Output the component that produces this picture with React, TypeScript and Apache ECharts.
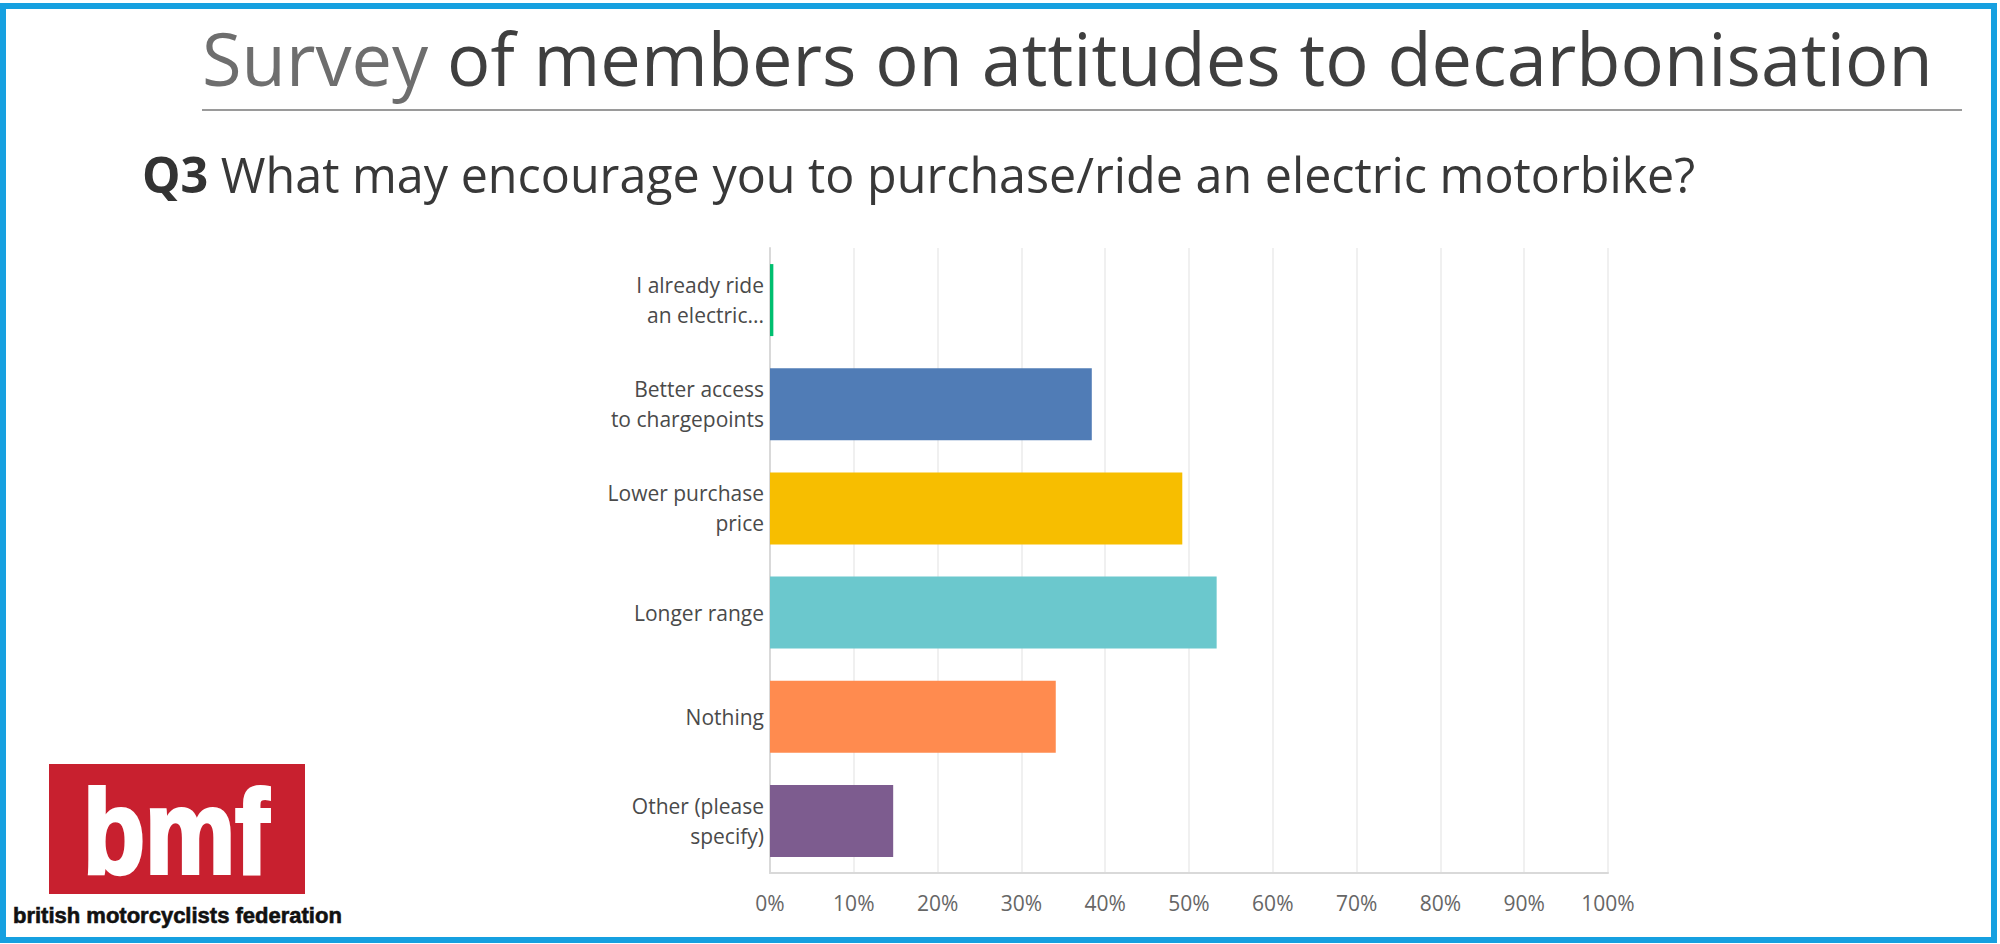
import React, { useEffect, useRef } from "react";
import * as echarts from "echarts";

const categories = [
  "I already ride\nan electric...",
  "Better access\nto chargepoints",
  "Lower purchase\nprice",
  "Longer range",
  "Nothing",
  "Other (please\nspecify)",
];
const values = [0.4, 38.4, 49.2, 53.3, 34.1, 14.7];
const barColors = ["#00BF6F", "#507CB6", "#F7BE00", "#6BC8CD", "#FF8B4F", "#7D5C8F"];
const axisMin = 0;
const axisMax = 100;
const axisStep = 10;

const titleLight = "Survey";
const titleDark = "of members on attitudes to decarbonisation";
const subtitleBold = "Q3";
const subtitleText = "What may encourage you to purchase/ride an electric motorbike?";
const logoText = "bmf";
const logoCaption = "british motorcyclists federation";

function measure(parts: { text: string; font: string }[]): number {
  const c = document.createElement("canvas");
  const ctx = c.getContext("2d");
  if (!ctx) return 1;
  let w = 0;
  for (const p of parts) {
    ctx.font = p.font;
    w += ctx.measureText(p.text).width;
  }
  return w;
}

export default function App() {
  const ref = useRef<HTMLDivElement>(null);
  useEffect(() => {
    if (!ref.current) return;
    const chart = echarts.init(ref.current, undefined, { renderer: "svg" });

    const OS = '"Open Sans", sans-serif';
    const LS = '"Liberation Sans", Arial, sans-serif';

    // Title
    const tSize = 74;
    const tW = measure([{ text: titleLight + " " + titleDark, font: `${tSize}px ${OS}` }]);
    const tScale = 1731 / tW;
    // Subtitle
    const sSize = 50;
    const sW = measure([
      { text: subtitleBold, font: `bold ${sSize}px ${OS}` },
      { text: " " + subtitleText, font: `${sSize}px ${OS}` },
    ]);
    const sScale = 1553 / sW;
    // Logo
    const lSize = 118;
    const lW = measure([{ text: logoText, font: `bold ${lSize}px ${LS}` }]);
    const lScale = 186 / lW;
    const cSize = 22;
    const cW = measure([{ text: logoCaption, font: `bold ${cSize}px ${LS}` }]);
    const cScale = 329 / cW;

    chart.setOption({
      animation: false,
      backgroundColor: "#ffffff",
      grid: { left: 770, right: 392, top: 248, bottom: 71, containLabel: false },
      xAxis: {
        type: "value",
        min: axisMin,
        max: axisMax,
        interval: axisStep,
        axisLine: { show: true, lineStyle: { color: "#d9d9d9", width: 2 } },
        axisTick: { show: false },
        splitLine: { show: true, lineStyle: { color: "#ebebeb", width: 1.5 } },
        axisLabel: {
          formatter: "{value}%",
          color: "#666666",
          fontSize: 21,
          fontFamily: OS,
          margin: 19,
        },
      },
      yAxis: {
        type: "category",
        inverse: true,
        data: categories,
        axisLine: { show: true, lineStyle: { color: "#d9d9d9", width: 2 } },
        axisTick: { show: false },
        splitLine: { show: false },
        axisLabel: {
          color: "#4a4a4a",
          fontSize: 21,
          lineHeight: 30,
          fontFamily: OS,
          margin: 6,
          align: "right",
        },
      },
      series: [
        {
          type: "bar",
          barWidth: 72,
          data: values.map((v, i) => ({ value: v, itemStyle: { color: barColors[i] } })),
        },
      ],
      graphic: [
        {
          type: "rect",
          z: 10,
          shape: { x: 3, y: 6, width: 1991, height: 934 },
          style: { fill: "none", stroke: "#16a0e0", lineWidth: 6 },
        },
        {
          type: "text",
          x: 202,
          y: 86 - 0.388 * tSize,
          scaleX: tScale,
          style: {
            text: `{a|${titleLight}} {b|${titleDark}}`,
            align: "left",
            verticalAlign: "middle",
            font: `${tSize}px ${OS}`,
            rich: {
              a: { fill: "#6e6e6e", fontSize: tSize, fontFamily: OS },
              b: { fill: "#3f3f3f", fontSize: tSize, fontFamily: OS },
            },
          },
        },
        {
          type: "line",
          shape: { x1: 202, y1: 110, x2: 1962, y2: 110 },
          style: { stroke: "#9a9a9a", lineWidth: 2 },
        },
        {
          type: "text",
          x: 142,
          y: 193 - 0.388 * sSize,
          scaleX: sScale,
          style: {
            text: `{q|${subtitleBold}} {t|${subtitleText}}`,
            align: "left",
            verticalAlign: "middle",
            font: `${sSize}px ${OS}`,
            rich: {
              q: { fill: "#333333", fontSize: sSize, fontFamily: OS, fontWeight: "bold" },
              t: { fill: "#383838", fontSize: sSize, fontFamily: OS },
            },
          },
        },
        {
          type: "rect",
          shape: { x: 49, y: 764, width: 256, height: 130 },
          style: { fill: "#c8202f" },
        },
        {
          type: "text",
          x: 83,
          y: 873 - 0.3465 * lSize,
          scaleX: lScale,
          style: {
            text: logoText,
            align: "left",
            verticalAlign: "middle",
            fontSize: lSize,
            fontWeight: "bold",
            fontFamily: LS,
            fill: "#ffffff",
            stroke: "#ffffff",
            lineWidth: 4,
          },
        },
        {
          type: "text",
          x: 13,
          y: 923 - 0.3465 * cSize,
          scaleX: cScale,
          style: {
            text: logoCaption,
            align: "left",
            verticalAlign: "middle",
            fontSize: cSize,
            fontWeight: "bold",
            fontFamily: LS,
            fill: "#111111",
            stroke: "#111111",
            lineWidth: 0.6,
          },
        },
      ],
    });
    return () => chart.dispose();
  }, []);
  return (
    <div
      ref={ref}
      style={{ position: "fixed", left: 0, top: 0, width: 2000, height: 944, background: "#fff" }}
    />
  );
}
